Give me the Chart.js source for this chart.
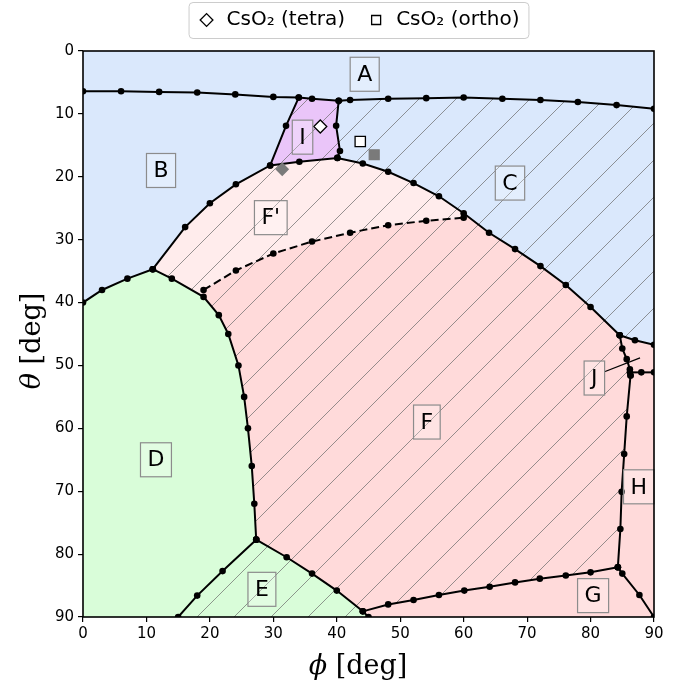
<!DOCTYPE html>
<html>
<head>
<meta charset="utf-8">
<script src="https://cdn.jsdelivr.net/npm/chart.js@4.4.1/dist/chart.umd.min.js"></script>
<style>
  html, body { margin: 0; padding: 0; background: #fff; }
  #wrap { width: 693px; height: 688px; }
</style>
</head>
<body>
<div id="wrap"><canvas id="phaseChart" width="693" height="688"></canvas></div>
<script>
// axis range (degrees)
const PHI_MIN = 0, PHI_MAX = 90;
const THETA_MIN = 0, THETA_MAX = 90;

// phase boundaries, [phi, theta] pairs
const topLine = [[0,6.4],[6,6.4],[12,6.5],[18,6.6],[24,6.9],[30,7.3],[34,7.4],[36.1,7.6],[40.3,7.9],[42.1,7.8],[48.1,7.6],[54.1,7.5],[60,7.4],[66.1,7.6],[72.1,7.8],[78,8.1],[84.1,8.6],[90,9.2]];
const iLeft = [[34,7.4],[32,11.9],[29.5,18.2]];
const iRight = [[40.3,7.9],[39.9,11.9],[40.5,15.9],[40.1,17.0]];
const bigCurve = [[11,34.7],[16.1,28.0],[20,24.2],[24.1,21.2],[29.5,18.2],[34.1,17.6],[40.1,17.0],[44.1,17.9],[48.1,19.2],[52.1,21.0],[56.1,23.1],[60,25.8],[64,28.9],[68.1,31.5],[72.1,34.2],[76.1,37.2],[80,40.7],[84.6,45.2]];
const bdCurve = [[0,40],[3,38],[7,36.2],[11,34.7]];
const dfCurve = [[11,34.7],[14,36.2],[19,39.1],[21.4,42],[22.9,45],[24.5,50],[25.4,55],[26,60],[26.6,66],[27,72],[27.3,77.7]];
const dashedLine = [[19,38],[24.1,34.9],[30,32.2],[36.1,30.3],[42.1,28.9],[48.1,27.7],[54.1,27.0],[60,26.5]];
const chLine = [[84.6,45.2],[87.0,46.0],[90,46.7]];
const jLeft = [[84.6,45.2],[85.0,47.3],[85.7,49.0],[86.2,50.6],[86.3,51.6]];
const jBottom = [[86.2,51.1],[88,51.1],[90,51.1]];
const hfLine = [[86.3,51.6],[85.7,58.1],[85.3,64.1],[84.9,70.1],[84.7,76.0],[84.3,82.1]];
const gfLine = [[84.3,82.1],[80,82.9],[76.1,83.4],[72,83.9],[68.1,84.5],[64.1,85.2],[60.1,85.8],[56.1,86.5],[52.1,87.3],[48.1,88.0],[44.1,89.1]];
const ghLine = [[84.3,82.1],[85.0,83.1],[87.7,86.5],[90,90]];
const edLine = [[27.3,77.7],[22,82.7],[18,86.6],[15,90]];
const efLine = [[27.3,77.7],[32.1,80.5],[36.1,83.1],[40,85.8],[44.1,89.1],[45,90]];
const jPointer = [[82.2,51.0],[87.8,48.8]];

// computed structures
const tetraPoint = [[37.4,12.0]];
const orthoPoint = [[43.7,14.4]];
const tetraGray = [[31.4,18.8]];
const orthoGray = [[45.9,16.5]];

// region labels
const regionLabels = ['A','B','C','D','E','F',"F'",'G','H','I','J'];
const labelPhi =   [44.4, 12.3, 67.3, 11.5, 28.2, 54.2, 29.6, 80.4, 87.6, 34.6, 80.6];
const labelTheta = [ 3.7, 19.0, 21.0, 65.0, 85.6, 59.0, 26.5, 86.6, 69.3, 13.7, 52.0];

const rev = a => a.slice().reverse();
const xy = a => a.map(p => ({x: p[0], y: p[1]}));

// closed regions built from the boundaries
const regionAll = [[PHI_MIN,THETA_MIN],[PHI_MAX,THETA_MIN],[PHI_MAX,THETA_MAX],[PHI_MIN,THETA_MAX]];
const regionC = [...topLine.slice(8), ...rev(chLine), ...rev(bigCurve.slice(6)), ...rev(iRight)];
const regionI = [...topLine.slice(6, 9), ...iRight.slice(1), ...rev(bigCurve.slice(4, 7)), ...rev(iLeft)];
const regionFp = [...bigCurve.slice(0, 12), ...rev(dashedLine), ...rev(dfCurve.slice(0, 3))];
const regionF = [...dashedLine, ...bigCurve.slice(11), ...jLeft.slice(1), ...hfLine.slice(1), ...gfLine.slice(1), ...rev(efLine), ...rev(dfCurve.slice(2))];
const regionD = [...bdCurve, ...dfCurve.slice(1), ...edLine.slice(1), [PHI_MIN,THETA_MAX]];
const regionE = [...efLine, ...rev(edLine)];
const regionGH = [...chLine, [PHI_MAX,THETA_MAX], efLine[efLine.length - 1], ...rev(gfLine), ...rev(hfLine), ...rev(jLeft)];

const BLUE = 'rgb(218,232,252)';
const PINK = 'rgb(255,218,218)';
const PINK_LIGHT = 'rgb(255,236,236)';
const GREEN = 'rgb(217,253,217)';
const PURPLE = 'rgb(234,197,249)';

// diagonal "/" hatch on top of a base colour
function hatch(base) {
  const s = 37;
  const c = document.createElement('canvas');
  c.width = s; c.height = s;
  const g = c.getContext('2d');
  g.fillStyle = base;
  g.fillRect(0, 0, s, s);
  g.strokeStyle = 'rgba(105,105,105,0.7)';
  g.lineWidth = 1;
  g.beginPath();
  for (const k of [0, s, 2 * s]) {
    g.moveTo(k - s - 1, s + 1);
    g.lineTo(k + 1, -1);
  }
  g.stroke();
  return g.createPattern(c, 'repeat');
}

function region(data, color) {
  return {
    label: '', data: xy(data), fill: 'shape', backgroundColor: color,
    borderWidth: 0, borderColor: 'transparent', pointRadius: 0, tension: 0
  };
}

function boundary(data, dashed) {
  return {
    label: '', data: xy(data), fill: false, borderColor: '#000', borderWidth: 2,
    borderDash: dashed ? [8, 4] : [], pointRadius: 3.3, pointBackgroundColor: '#000',
    pointBorderWidth: 0, tension: 0
  };
}

function marker(label, data, style, fillColor, radius) {
  const edge = fillColor === '#fff' ? '#000' : fillColor;
  return {
    label, data: xy(data), showLine: false, pointStyle: style, pointRadius: radius,
    backgroundColor: fillColor, borderColor: edge,
    pointBackgroundColor: fillColor, pointBorderColor: edge,
    pointBorderWidth: 1.3, borderWidth: 1.3
  };
}

const datasets = [
  marker('CsO\u2082 (tetra)', tetraPoint, 'rectRot', '#fff', 6.5),
  marker('CsO\u2082 (ortho)', orthoPoint, 'rect', '#fff', 7.3),
  marker('', tetraGray, 'rectRot', '#7a7a7a', 6),
  marker('', orthoGray, 'rect', '#7a7a7a', 7),
  boundary(topLine), boundary(iLeft), boundary(iRight), boundary(bigCurve),
  boundary(bdCurve), boundary(dfCurve), boundary(dashedLine, true), boundary(chLine),
  boundary(jLeft), boundary(jBottom), boundary(hfLine), boundary(gfLine),
  boundary(ghLine), boundary(edLine), boundary(efLine),
  Object.assign(boundary(jPointer), {pointRadius: 0, borderWidth: 1.3}),
  region(regionI, hatch(PURPLE)),
  region(regionC, hatch(BLUE)),
  region(regionFp, hatch(PINK_LIGHT)),
  region(regionF, hatch(PINK)),
  region(regionE, hatch(GREEN)),
  region(regionD, GREEN),
  region(regionGH, PINK),
  region(regionAll, BLUE)
];

// boxed region names
const regionNames = {
  id: 'regionNames',
  afterDatasetsDraw(chart) {
    const {ctx, scales: {x, y}} = chart;
    ctx.save();
    ctx.font = '22px "DejaVu Sans"';
    ctx.textAlign = 'center';
    ctx.textBaseline = 'middle';
    regionLabels.forEach((t, i) => {
      const px = x.getPixelForValue(labelPhi[i]);
      const py = y.getPixelForValue(labelTheta[i]);
      const w = ctx.measureText(t).width + 14;
      const h = 34;
      ctx.fillStyle = 'rgba(255,255,255,0.25)';
      ctx.fillRect(px - w / 2, py - h / 2, w, h);
      ctx.strokeStyle = '#8c8c8c';
      ctx.lineWidth = 1.2;
      ctx.strokeRect(px - w / 2, py - h / 2, w, h);
      ctx.fillStyle = '#000';
      ctx.fillText(t, px, py + 1);
    });
    ctx.restore();
  }
};

// legend sits centred over the figure, close to the top edge
const LEGEND_CENTER_X = 358;
const LEGEND_RAISE = 11;
const legendPlace = {
  id: 'legendPlace',
  afterUpdate(chart) {
    const lg = chart.legend;
    const boxes = lg.legendHitBoxes;
    if (!boxes || !boxes.length) return;
    const l = Math.min(...boxes.map(b => b.left));
    const r = Math.max(...boxes.map(b => b.left + b.width));
    const dx = LEGEND_CENTER_X - (l + r) / 2;
    lg.left += dx; lg.right += dx;
    lg.top -= LEGEND_RAISE; lg.bottom -= LEGEND_RAISE;
    boxes.forEach(b => { b.left += dx; b.top -= LEGEND_RAISE; });
  }
};

function mathTitle(ctx, sym, rest, cx, cy, rot) {
  ctx.save();
  ctx.translate(cx, cy);
  ctx.rotate(rot);
  const italic = 'italic 27px "DejaVu Serif"';
  const upright = '27px "DejaVu Serif"';
  ctx.font = italic;
  const w1 = ctx.measureText(sym).width;
  ctx.font = upright;
  const w2 = ctx.measureText(rest).width;
  const x0 = -(w1 + w2) / 2;
  ctx.fillStyle = '#000';
  ctx.textBaseline = 'middle';
  ctx.textAlign = 'left';
  ctx.font = italic;
  ctx.fillText(sym, x0, 0);
  ctx.font = upright;
  ctx.fillText(rest, x0 + w1, 0);
  ctx.restore();
}

// frame, axis titles and legend box
const frame = {
  id: 'frame',
  afterDraw(chart) {
    const {ctx, chartArea: a} = chart;
    ctx.save();
    ctx.strokeStyle = '#000';
    ctx.lineWidth = 1.6;
    ctx.strokeRect(a.left, a.top, a.right - a.left, a.bottom - a.top);
    mathTitle(ctx, '\u03d5', ' [deg]', LEGEND_CENTER_X, a.bottom + 50, 0);
    mathTitle(ctx, '\u03b8', ' [deg]', a.left - 50, (a.top + a.bottom) / 2 + 7, -Math.PI / 2);
    const boxes = chart.legend.legendHitBoxes;
    if (boxes && boxes.length) {
      const l = Math.min(...boxes.map(b => b.left)) - 8;
      const r = Math.max(...boxes.map(b => b.left + b.width)) + 9;
      const t = Math.min(...boxes.map(b => b.top)) - 8;
      const btm = Math.max(...boxes.map(b => b.top + b.height)) + 8;
      ctx.strokeStyle = '#cccccc';
      ctx.lineWidth = 1;
      ctx.beginPath();
      ctx.roundRect(l + 0.5, t + 0.5, r - l, btm - t, 4);
      ctx.stroke();
    }
    ctx.restore();
  }
};

new Chart(document.getElementById('phaseChart'), {
  type: 'line',
  data: { datasets },
  options: {
    responsive: false,
    animation: false,
    layout: { padding: { left: 0, right: 39, top: 0, bottom: 0 } },
    plugins: {
      tooltip: { enabled: false },
      legend: {
        position: 'top',
        labels: {
          usePointStyle: true,
          boxHeight: 9,
          color: '#000',
          padding: 21,
          font: { size: 20, family: '"DejaVu Sans"' },
          filter: item => item.text !== ''
        }
      }
    },
    scales: {
      x: {
        type: 'linear', min: PHI_MIN, max: PHI_MAX,
        ticks: { stepSize: 10, color: '#000', font: { size: 15, family: '"DejaVu Sans"' }, padding: 3 },
        grid: { drawOnChartArea: false, tickLength: 5, color: '#000', lineWidth: 1.2 },
        border: { display: false },
        afterFit: s => { s.height = 71; }
      },
      y: {
        type: 'linear', min: THETA_MIN, max: THETA_MAX, reverse: true,
        ticks: { stepSize: 10, color: '#000', font: { size: 15, family: '"DejaVu Sans"' }, padding: 4 },
        grid: { drawOnChartArea: false, tickLength: 5, color: '#000', lineWidth: 1.2 },
        border: { display: false },
        afterFit: s => { s.width = 83; }
      }
    }
  },
  plugins: [regionNames, legendPlace, frame]
});
</script>
</body>
</html>
